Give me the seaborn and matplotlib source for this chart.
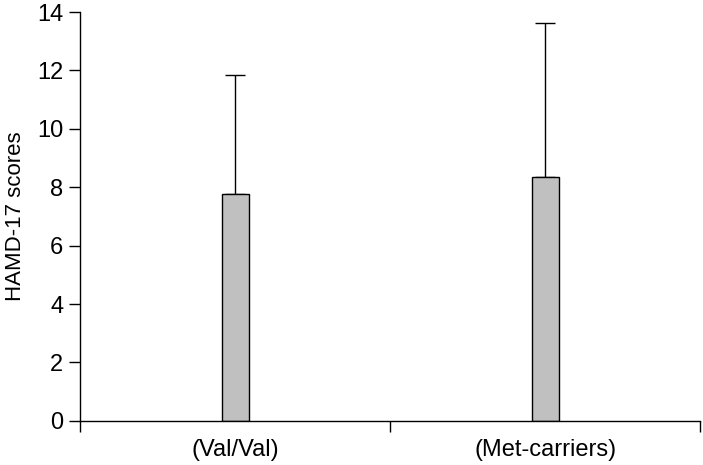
import matplotlib
matplotlib.use("Agg")
import matplotlib.pyplot as plt
import seaborn as sns
import pandas as pd
import numpy as np

categories = ["(Val/Val)", "(Met-carriers)"]
means = [7.78, 8.36]
upper_sd = [4.06, 5.26]
y_ticks = [0, 2, 4, 6, 8, 10, 12, 14]

sns.set_style("white")
plt.rcParams['font.family'] = ['Liberation Sans', 'DejaVu Sans']
plt.rcParams['text.color'] = 'black'
plt.rcParams['axes.labelcolor'] = 'black'
plt.rcParams['xtick.color'] = 'black'
plt.rcParams['ytick.color'] = 'black'

df = pd.DataFrame({"group": categories, "score": means})

fig = plt.figure(figsize=(7.03, 4.65), dpi=100)
ax = fig.add_axes([0.114, 0.095, 0.882, 0.879])

sns.barplot(data=df, x="group", y="score", ax=ax, color="#c0c0c0",
            edgecolor="black", linewidth=1.0, width=0.087, errorbar=None,
            saturation=1)
xs = np.arange(len(categories))
ax.errorbar(xs, means, yerr=[np.zeros(len(means)), upper_sd], fmt="none",
            ecolor="black", elinewidth=1.0, capsize=7, capthick=1.0, zorder=0)

ax.set_xlim(-0.5, len(categories) - 0.5)
ax.set_ylim(0, 14)
ax.set_yticks(y_ticks)
ax.set_xlabel("")
ax.set_ylabel("HAMD-17 scores", fontsize=16, labelpad=8)
ax.tick_params(axis="y", labelsize=17, length=8, width=1, direction="out", left=True, pad=4)
ax.tick_params(axis="x", which="major", length=0, labelsize=17, pad=13)
ax.set_xticks(np.arange(-0.5, len(categories)), minor=True)
ax.tick_params(axis="x", which="minor", length=8, width=1, direction="out", bottom=True)
for s in ["top", "right"]:
    ax.spines[s].set_visible(False)
for s in ["left", "bottom"]:
    ax.spines[s].set_color("black")
    ax.spines[s].set_linewidth(1.0)

fig.savefig("out.png", dpi=100)
